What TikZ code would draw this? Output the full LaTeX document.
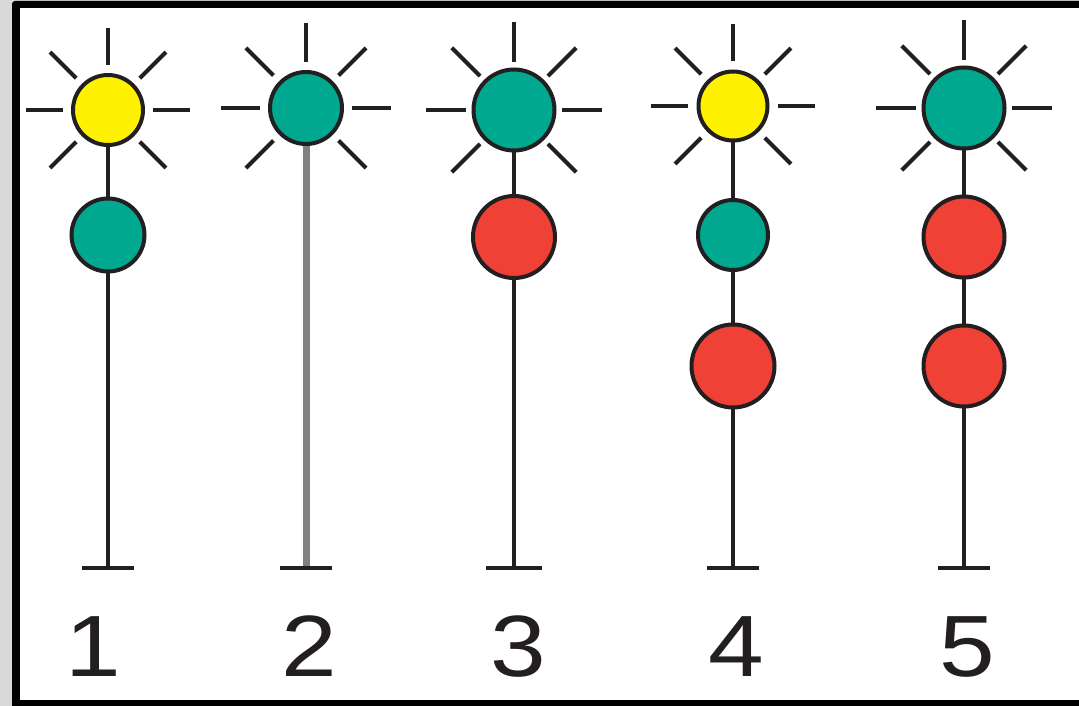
\documentclass[tikz,border=0pt]{standalone}
\usepackage{fontspec}
\newfontfamily\digitfont[FakeStretch=1.15]{Liberation Sans}
\definecolor{lyel}{HTML}{FFF200}
\definecolor{lgrn}{HTML}{00A88F}
\definecolor{lred}{HTML}{EF4136}
\definecolor{ink}{HTML}{231F20}
\definecolor{bgray}{HTML}{D9D9D9}
\definecolor{polegray}{HTML}{808080}
\newcommand\sunrays[3]{%
  \foreach \a in {0,45,135,180,225,270,315}
    \draw[ray] ([shift={(\a:#2)}]#1.center) -- ([shift={(\a:#3)}]#1.center);}
\begin{document}
\begin{tikzpicture}[x=1pt,y=-1pt,
  lamp/.style={circle, draw=ink, line width=4pt, inner sep=0pt, minimum size=#1},
  lamp/.default=72,
  ray/.style={draw=ink, line width=4pt},
  pole/.style={draw=ink, line width=4pt},
  greypole/.style={draw=polegray, line width=7pt},
  footbar/.style={draw=ink, line width=4.5pt},
  num/.style={font=\digitfont\fontsize{87}{87}\selectfont, text=ink, anchor=base, inner sep=0pt}]
\useasboundingbox (0,0) rectangle (1079,706);
\fill[bgray] (0,0) rectangle (1079,706);
\fill[black, rounded corners=3pt] (12,1) rectangle (1110,730);
\fill[white] (20,8) rectangle (1110,700);
% coordinates
\coordinate (c1a) at (108,110); \coordinate (c1b) at (108,235); \coordinate (f1) at (108,568);
\coordinate (c2a) at (306,108); \coordinate (f2) at (306,568);
\coordinate (c3a) at (514,110); \coordinate (c3b) at (514,237); \coordinate (f3) at (514,568);
\coordinate (c4a) at (733,106); \coordinate (c4b) at (733,235); \coordinate (c4c) at (733,366); \coordinate (f4) at (733,568);
\coordinate (c5a) at (964,108); \coordinate (c5b) at (964,237); \coordinate (c5c) at (964,366); \coordinate (f5) at (964,568);
% poles
\draw[pole] (c1a) -- (f1);
\draw[greypole] (c2a) -- (f2);
\draw[pole] (c3a) -- (f3);
\draw[pole] (c4a) -- (f4);
\draw[pole] (c5a) -- (f5);
% feet
\draw[footbar] ([xshift=-26]f1) -- ([xshift=26]f1);
\draw[footbar] ([xshift=-26]f2) -- ([xshift=26]f2);
\draw[footbar] ([xshift=-28]f3) -- ([xshift=28]f3);
\draw[footbar] ([xshift=-26]f4) -- ([xshift=26]f4);
\draw[footbar] ([xshift=-26]f5) -- ([xshift=26]f5);
% lamps
\node[lamp=70, fill=lyel] (s1) at (c1a) {};
\node[lamp=73, fill=lgrn] (g1) at (c1b) {};
\node[lamp=72, fill=lgrn] (s2) at (c2a) {};
\node[lamp=81, fill=lgrn] (s3) at (c3a) {};
\node[lamp=82, fill=lred] (r3) at (c3b) {};
\node[lamp=69, fill=lyel] (s4) at (c4a) {};
\node[lamp=70, fill=lgrn] (g4) at (c4b) {};
\node[lamp=83, fill=lred] (r4) at (c4c) {};
\node[lamp=81, fill=lgrn] (s5) at (c5a) {};
\node[lamp=81, fill=lred] (r5) at (c5b) {};
\node[lamp=81, fill=lred] (q5) at (c5c) {};
% rays
\sunrays{s1}{45}{82}
\sunrays{s2}{46}{85}
\sunrays{s3}{48}{88}
\sunrays{s4}{45}{82}
\sunrays{s5}{48}{88}
% labels
\node[num] (n1) at (93,676) {1};
\node[num] (n2) at (309,676) {2};
\node[num] (n3) at (518,676) {3};
\node[num] (n4) at (736,676) {4};
\node[num] (n5) at (967,676) {5};
\end{tikzpicture}
\end{document}
